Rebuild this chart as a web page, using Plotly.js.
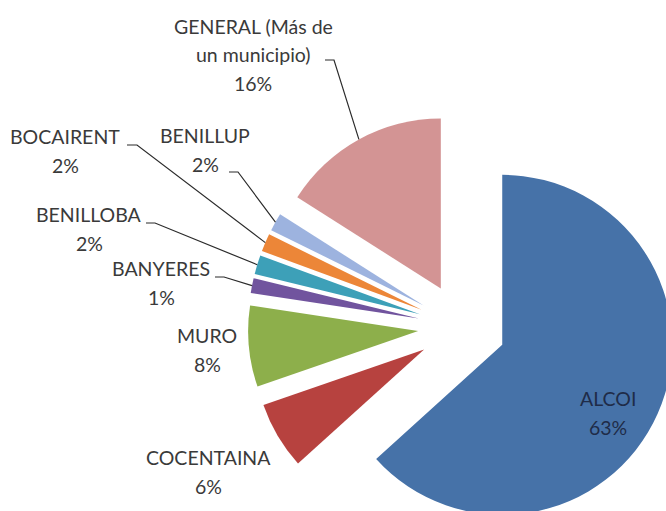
<!DOCTYPE html>
<html><head><meta charset="utf-8">
<script src="https://cdn.plot.ly/plotly-3.0.1.min.js"></script>
<style>
html,body{margin:0;padding:0;overflow:hidden;background:#fff;width:666px;height:511px}
#chart{width:700px;height:560px}
</style>
</head><body><div id="chart"></div>
<script>
// ---- data ----
const categories = ['ALCOI', 'COCENTAINA', 'MURO', 'BANYERES', 'BENILLOBA', 'BOCAIRENT', 'BENILLUP', 'GENERAL (Más de un municipio)'];
const values = [63.3, 6.4, 7.7, 1.4, 1.8, 1.7, 1.7, 16.0];

// ---- styles ----
const colors = ['#4672A8', '#B7423F', '#8DAF4B', '#71549E', '#3DA0B8', '#EC8638', '#9DB3DF', '#D39494'];
const FONT = 'Lato, "Open Sans", sans-serif';
const FS = 19.5;
const TEXT_COLOR = '#3A3A3A';

// ---- geometry (pixels in the 700x560 plot div) ----
const W = 700, H = 560, CX = 462, CY = 327, R = 170, PULL = 0.259;
const HALF = R * (1 + PULL);
const LS = 28.5;
// label block centres
const labelPos = [[608, 413], [208, 472], [207, 350], [161, 283], [89, 229], [65, 151], [205, 150], [253, 55]];
// leader lines: [dash start x, dash end x, y] (null = no leader)
const leaders = [null, null, null, [215, 224, 277], [146, 155, 223], [127, 137, 145], [229, 238, 172], [325, 334, 60]];

const px = x => x / W, py = y => 1 - y / H;
const total = values.reduce((a, b) => a + b, 0);

const annotations = [];
const shapes = [];
let cum = 0;
categories.forEach((name, i) => {
  const frac = values[i] / total;
  const mid = (cum + frac / 2) * 2 * Math.PI;
  cum += frac;
  const lines = name.replace(' un ', '\n un ').split('\n ').concat([Math.round(frac * 100) + '%']);
  const [bx, by] = labelPos[i];
  lines.forEach((t, k) => {
    annotations.push({
      xref: 'paper', yref: 'paper', x: px(bx), y: py(by + (k - (lines.length - 1) / 2) * LS),
      xanchor: 'center', yanchor: 'middle', showarrow: false, text: t,
      font: {family: FONT, size: FS, color: i === 0 ? '#1F2C48' : TEXT_COLOR}
    });
  });
  if (leaders[i]) {
    const [x0, x1, y] = leaders[i];
    const ex = CX + HALF * Math.sin(mid), ey = CY - HALF * Math.cos(mid);
    shapes.push({
      type: 'path', xref: 'paper', yref: 'paper',
      path: `M ${px(x0)} ${py(y)} L ${px(x1)} ${py(y)} L ${px(ex)} ${py(ey)}`,
      line: {color: '#2B2B2B', width: 1.2}
    });
  }
});

const trace = {
  type: 'pie',
  labels: categories,
  values: values,
  sort: false,
  direction: 'clockwise',
  rotation: 0,
  pull: values.map(() => PULL),
  marker: {colors: colors, line: {width: 0}},
  textinfo: 'none',
  hoverinfo: 'label+percent',
  showlegend: false,
  domain: {x: [(CX - HALF) / W, (CX + HALF) / W], y: [(H - CY - HALF) / H, (H - CY + HALF) / H]}
};

Plotly.newPlot('chart', [trace], {
  width: W, height: H,
  margin: {l: 0, r: 0, t: 0, b: 0},
  paper_bgcolor: '#ffffff',
  showlegend: false,
  annotations: annotations,
  shapes: shapes
}, {displayModeBar: false, staticPlot: true});
</script>
</body></html>
